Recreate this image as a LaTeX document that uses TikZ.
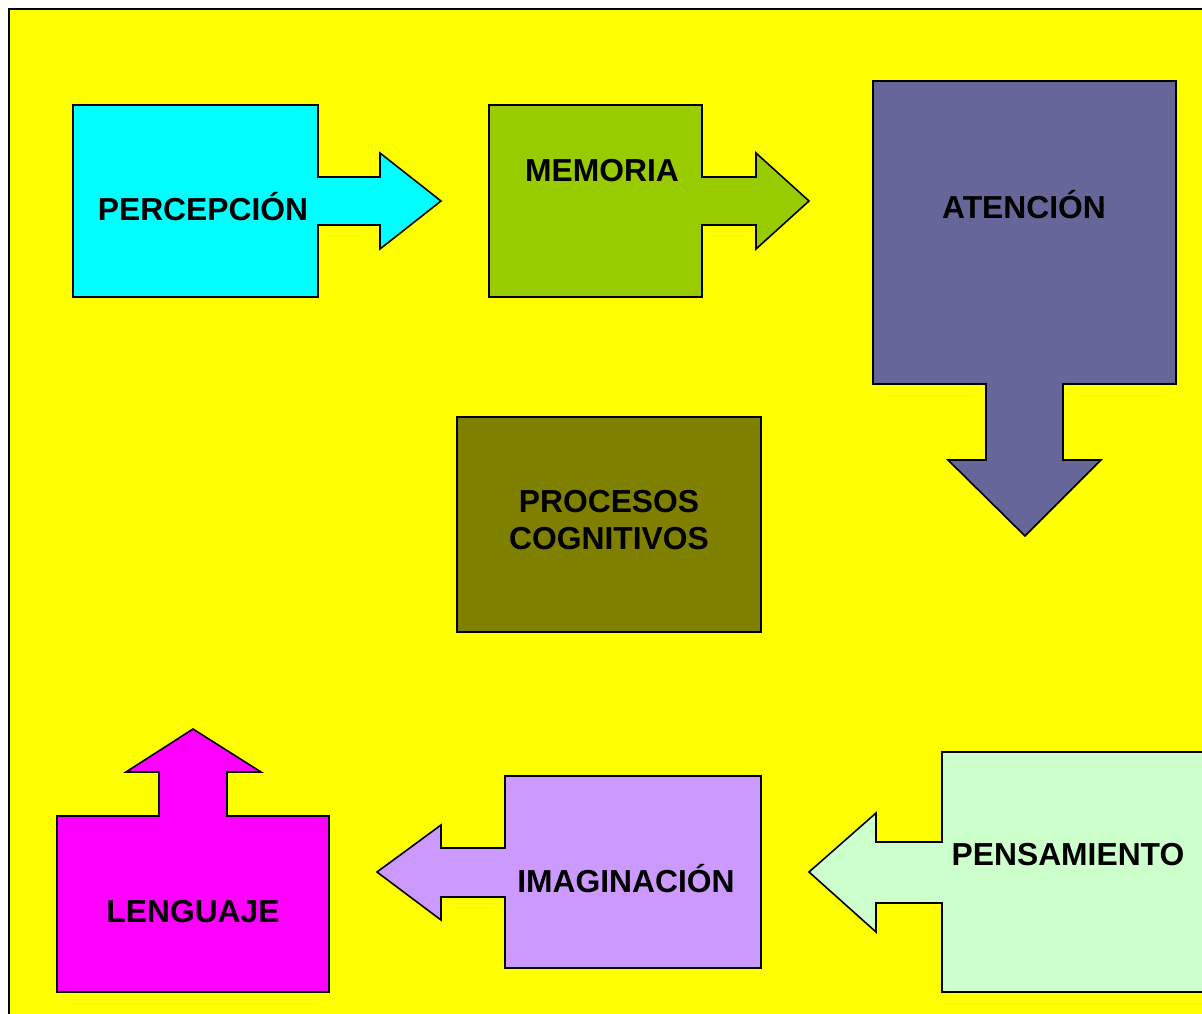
\documentclass[tikz,border=0pt]{standalone}
\usepackage{fontspec}
\setmainfont{Liberation Sans}
\begin{document}
\begin{tikzpicture}[x=1pt,y=-1pt,
  blockshape/.style={draw=black,line width=1.6pt,line join=miter},
  lbl/.style={font=\fontsize{31.8}{37}\selectfont\bfseries,align=center,inner sep=0pt}]
\useasboundingbox (0,0) rectangle (1202,1013);
% page
\fill[white] (0,0) rectangle (1202,1013);
\draw[fill={rgb,255:red,255;green,255;blue,0},line width=2pt] (9,9) rectangle (1215,1025);

% PERCEPCION: box with arrow to the right
\draw[blockshape,fill={rgb,255:red,0;green,255;blue,255}]
  (73,105) -- (318,105) -- (318,177) -- (380,177) -- (380,153) -- (441,201)
  -- (380,249) -- (380,225) -- (318,225) -- (318,297) -- (73,297) -- cycle;
% MEMORIA
\draw[blockshape,fill={rgb,255:red,153;green,204;blue,0}]
  (489,105) -- (702,105) -- (702,177) -- (756,177) -- (756,153) -- (809,201)
  -- (756,249) -- (756,225) -- (702,225) -- (702,297) -- (489,297) -- cycle;
% ATENCION: box with arrow down
\draw[blockshape,fill={rgb,255:red,102;green,102;blue,153}]
  (873,81) -- (1176,81) -- (1176,384) -- (1063,384) -- (1063,460) -- (1101,460)
  -- (1025,536) -- (948,460) -- (986,460) -- (986,384) -- (873,384) -- cycle;
% PROCESOS COGNITIVOS
\draw[blockshape,fill={rgb,255:red,128;green,128;blue,0}] (457,417) rectangle (761,632);
% LENGUAJE: box with arrow up
\draw[blockshape,fill={rgb,255:red,255;green,0;blue,255}]
  (57,816) -- (159,816) -- (159,772) -- (126,772) -- (193,729) -- (261,772)
  -- (227,772) -- (227,816) -- (329,816) -- (329,992) -- (57,992) -- cycle;
% IMAGINACION: box with arrow to the left
\draw[blockshape,fill={rgb,255:red,204;green,153;blue,255}]
  (505,776) -- (761,776) -- (761,968) -- (505,968) -- (505,897) -- (441,897)
  -- (441,920) -- (377,872) -- (441,825) -- (441,848) -- (505,848) -- cycle;
% PENSAMIENTO
\draw[blockshape,fill={rgb,255:red,204;green,255;blue,204}]
  (942,752) -- (1215,752) -- (1215,992) -- (942,992) -- (942,903) -- (876,903)
  -- (876,932) -- (809,872) -- (876,813) -- (876,842) -- (942,842) -- cycle;

% labels
\node[lbl] (percepcion) at (203,207) {PERCEPCIÓN};
\node[lbl] (memoria) at (602,171) {MEMORIA};
\node[lbl] (atencion) at (1024,205) {ATENCIÓN};
\node[lbl] (procesos) at (609,520) {PROCESOS\\COGNITIVOS};
\node[lbl] (imaginacion) at (626,879) {IMAGINACIÓN};
\node[lbl] (pensamiento) at (1068,855) {PENSAMIENTO};
\node[lbl] (lenguaje) at (193,912) {LENGUAJE};
\end{tikzpicture}
\end{document}
